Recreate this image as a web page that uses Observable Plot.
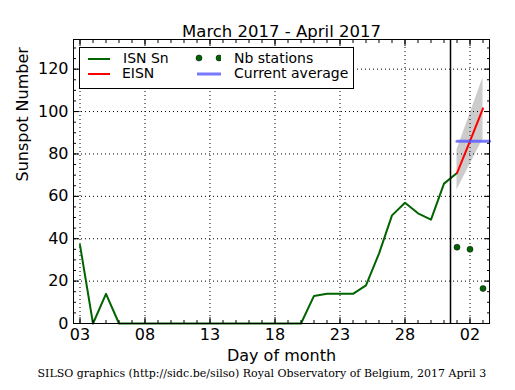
<!DOCTYPE html>
<html><head><meta charset="utf-8">
<script src="https://cdn.jsdelivr.net/npm/d3@7"></script>
<script src="https://cdn.jsdelivr.net/npm/@observablehq/plot@0.6"></script>
<style>
body{margin:0;background:#fff;}
#wrap{position:relative;width:515px;height:390px;overflow:hidden;}
#legend{position:absolute;left:79px;top:47px;width:273px;height:40px;border:1px solid #000;background:#fff;font-family:"DejaVu Sans",sans-serif;font-size:14px;color:#000;}
#legend .it{position:absolute;white-space:nowrap;line-height:16px;}
#legend .sw{position:absolute;}
</style></head><body><div id="wrap"></div>
<script>
// ---- data ----
const isnDates = ["2017-03-03","2017-03-04","2017-03-05","2017-03-06","2017-03-07","2017-03-08","2017-03-09","2017-03-10","2017-03-11","2017-03-12","2017-03-13","2017-03-14","2017-03-15","2017-03-16","2017-03-17","2017-03-18","2017-03-19","2017-03-20","2017-03-21","2017-03-22","2017-03-23","2017-03-24","2017-03-25","2017-03-26","2017-03-27","2017-03-28","2017-03-29","2017-03-30","2017-03-31","2017-04-01"];
const isnValues = [37,0,14,0,0,0,0,0,0,0,0,0,0,0,0,0,0,0,13,14,14,14,18,33,51,57,52,49,66,71];
const eisnDates = ["2017-04-01","2017-04-02","2017-04-03"];
const eisnValues = [71,86,101.5];
const eisnLow = [63,75,87];
const eisnHigh = [82,99,116];
const stationDates = ["2017-04-01","2017-04-02","2017-04-03"];
const stationValues = [36,35,16.5];
const averageDates = ["2017-04-01","2017-04-03T12:00Z"];
const averageValue = 86;
const boundaryDate = "2017-03-31T12:00Z";
const xDomain = ["2017-03-02T12:00Z","2017-04-03T12:00Z"];
const xTickDates = ["2017-03-03","2017-03-08","2017-03-13","2017-03-18","2017-03-23","2017-03-28","2017-04-02"];
const yDomain = [0,134];
const yTicks = [0,20,40,60,80,100,120];
const titleText = "March 2017 - April 2017";
const xLabel = "Day of month";
const yLabel = "Sunspot Number";
const captionText = "SILSO graphics (http://sidc.be/silso) Royal Observatory of Belgium, 2017 April 3";

// ---- build ----
const P = d3.isoParse;
const isn = isnDates.map((d,i)=>({date:P(d), value:isnValues[i]}));
const eisn = eisnDates.map((d,i)=>({date:P(d), value:eisnValues[i], low:eisnLow[i], high:eisnHigh[i]}));
const stations = stationDates.map((d,i)=>({date:P(d), value:stationValues[i]}));
const avg = averageDates.map(d=>({date:P(d), value:averageValue}));
const xDom = xDomain.map(P);
const xTicks = xTickDates.map(P);
const minorX = d3.utcDay.range(xDom[0], xDom[1]);
const minorY = d3.range(yDomain[0], yDomain[1], 5);
const GREEN = "#006400";
const blank = () => "";
const fs = 16;

const chart = Plot.plot({
  width:515, height:390,
  marginLeft:73, marginRight:26, marginTop:39, marginBottom:67,
  style:{fontFamily:"DejaVu Sans, sans-serif", background:"white", color:"black"},
  x:{type:"utc", domain:xDom, label:null},
  y:{domain:yDomain, label:null},
  marks:[
    Plot.areaY(eisn, {x:"date", y1:"low", y2:"high", fill:"#cccccc"}),
    Plot.gridX(xTicks, {stroke:"#000", strokeOpacity:1, strokeDasharray:"1,3"}),
    Plot.gridY(yTicks, {stroke:"#000", strokeOpacity:1, strokeDasharray:"1,3"}),
    Plot.lineY(isn, {x:"date", y:"value", stroke:GREEN, strokeWidth:2}),
    Plot.lineY(eisn, {x:"date", y:"value", stroke:"#ff0000", strokeWidth:2}),
    Plot.ruleX([P(boundaryDate)], {stroke:"#000", strokeWidth:1.5}),
    Plot.lineY(avg, {x:"date", y:"value", stroke:"#5555ff", strokeOpacity:0.8, strokeWidth:3}),
    Plot.dot(stations, {x:"date", y:"value", r:3, fill:GREEN, stroke:"#000", strokeWidth:0.5}),
    Plot.axisX(xTicks, {anchor:"bottom", tickSize:-6, tickPadding:11, tickFormat:d3.utcFormat("%d"), fontSize:fs, label:null}),
    Plot.axisX(minorX, {anchor:"bottom", tickSize:-3, tickFormat:blank, label:null}),
    Plot.axisX(xTicks, {anchor:"top", tickSize:-6, tickFormat:blank, label:null}),
    Plot.axisX(minorX, {anchor:"top", tickSize:-3, tickFormat:blank, label:null}),
    Plot.axisY(yTicks, {anchor:"left", tickSize:-6, tickPadding:11, fontSize:fs, label:null}),
    Plot.axisY(minorY, {anchor:"left", tickSize:-3, tickFormat:blank, label:null}),
    Plot.axisY(yTicks, {anchor:"right", tickSize:-6, tickFormat:blank, label:null}),
    Plot.axisY(minorY, {anchor:"right", tickSize:-3, tickFormat:blank, label:null}),
    Plot.frame({stroke:"#000", strokeWidth:1}),
    Plot.text([titleText], {text:d=>d, frameAnchor:"top", dy:-14, fontSize:16.5, fill:"#000"}),
    Plot.text([xLabel], {text:d=>d, frameAnchor:"bottom", dy:37, fontSize:16, fill:"#000"}),
    Plot.text([yLabel], {text:d=>d, frameAnchor:"left", dx:-51, rotate:-90, fontSize:16, fill:"#000"}),
    Plot.text([captionText], {text:d=>d, frameAnchor:"bottom-left", textAnchor:"start", dx:-36, dy:53, fontSize:11, fontFamily:"DejaVu Serif, serif", fill:"#000"})
  ]
});
const wrap = document.getElementById("wrap");
wrap.appendChild(chart);

// legend (drawn over the plot area, like the original)
const legend = document.createElement("div");
legend.id = "legend";
legend.innerHTML = `
  <svg class="sw" style="left:8px;top:9px" width="22" height="4"><line x1="0" x2="22" y1="2" y2="2" stroke="${GREEN}" stroke-width="2"/></svg>
  <div class="it" style="left:43px;top:2px">ISN Sn</div>
  <svg class="sw" style="left:8px;top:24px" width="22" height="4"><line x1="0" x2="22" y1="2" y2="2" stroke="#ff0000" stroke-width="2"/></svg>
  <div class="it" style="left:42px;top:17px">EISN</div>
  <svg class="sw" style="left:115px;top:6px" width="26" height="8"><circle cx="4" cy="4" r="3" fill="${GREEN}" stroke="#000" stroke-width="0.5"/><circle cx="24" cy="4" r="3" fill="${GREEN}" stroke="#000" stroke-width="0.5"/></svg>
  <div class="it" style="left:154px;top:2px">Nb stations</div>
  <svg class="sw" style="left:117px;top:23px" width="24" height="6"><line x1="0" x2="24" y1="3" y2="3" stroke="#5555ff" stroke-opacity="0.8" stroke-width="3"/></svg>
  <div class="it" style="left:154px;top:17px">Current average</div>`;
wrap.appendChild(legend);
</script>
</body></html>
